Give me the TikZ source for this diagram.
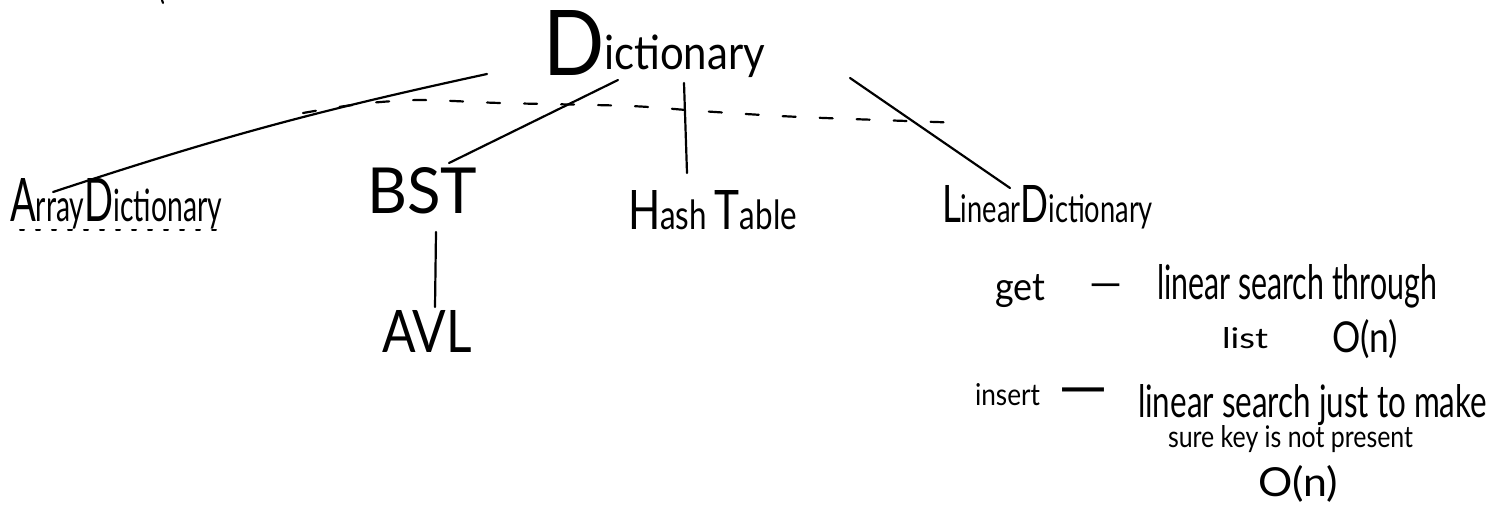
\documentclass[tikz,border=0pt]{standalone}
\usepackage{fontspec}
\setmainfont{Lato}
\usepackage{graphicx}
\newcommand{\hw}[3]{\resizebox{#1pt}{#2pt}{#3}}
\newcommand{\hwC}{\fontsize{27}{27}\selectfont}
\newcommand{\hwL}{\fontsize{20}{20}\selectfont}
\tikzset{
  lbl/.style={anchor=base west, inner sep=0pt, outer sep=0pt},
  dsh/.style={anchor=center, inner sep=0pt, outer sep=0pt},
  edge/.style={line width=2.2pt, line cap=round, line join=round},
  dashedge/.style={edge, dash pattern=on 13pt off 24pt},
  dotedge/.style={line width=2pt, line cap=round, dash pattern=on 4pt off 12pt}
}
\begin{document}
\begin{tikzpicture}[x=1pt,y=-1pt]
\useasboundingbox (0,0) rectangle (1498,506);
% labels
\node[lbl] (dict) at (543,75) {\hw{222}{65}{{\fontsize{48}{48}\selectfont D}{\fontsize{25}{25}\selectfont\raisebox{3pt}{ictionary}}}};
\node[lbl] (arr) at (10,221) {\hw{212}{43}{{\hwC A}{\hwL rray}{\hwC D}{\hwL ictionary}}};
\node[lbl] (bst) at (367,213) {\hw{110}{46}{\hwL BST}};
\node[lbl] (avl) at (382,352) {\hw{90}{42}{\hwL AVL}};
\node[lbl] (hash) at (628,229) {\hw{169}{39}{{\hwC H}{\hwL ash }{\hwC T}{\hwL able}}};
\node[lbl] (lin) at (942,222) {\hw{211}{37}{{\hwC L}{\hwL inear}{\hwC D}{\hwL ictionary}}};
\node[lbl] (get) at (995,300) {\hw{50}{26}{\hwL get}};
\node[dsh] (getdash) at (1106,291) {\resizebox{33pt}{!}{\hwL —}};
\node[lbl] (getdesc) at (1157,299) {\hw{280}{35}{\hwL linear search through}};
\node[lbl] (list) at (1222,348) {\hw{46}{21}{\hwL list}};
\node[lbl] (on1) at (1332,352) {\hw{66}{33}{\hwL O(n)}};
\node[lbl] (ins) at (975,405) {\hw{65}{22}{\hwL insert}};
\node[dsh] (insdash) at (1083,398) {\resizebox{50pt}{!}{\hwL —}};
\node[lbl] (insdesc) at (1138,417) {\hw{349}{33}{\hwL linear search just to make}};
\node[lbl] (sure) at (1168,447) {\hw{245}{22}{\hwL sure key is not present}};
\node[lbl] (on2) at (1258,496) {\hw{80}{31}{\hwL O(n)}};
% connector end points
\coordinate (d-arr) at (487,74);
\coordinate (arr-d) at (53,192);
\coordinate (d-bst) at (618,80);
\coordinate (bst-d) at (449,163);
\coordinate (d-hash) at (684,83);
\coordinate (hash-d) at (687,173);
\coordinate (d-lin) at (850,78);
\coordinate (lin-d) at (1010,188);
\coordinate (bst-avl) at (436,232);
\coordinate (avl-bst) at (435,307);
\draw[edge] (d-arr) to[bend right=3] (arr-d);
\draw[edge] (d-bst) -- (bst-d);
\draw[edge] (d-hash) -- (hash-d);
\draw[edge] (d-lin) -- (lin-d);
\draw[edge] (bst-avl) -- (avl-bst);
% dashed stroke across the tree
\draw[dashedge] plot[smooth] coordinates {(303,113) (360,104) (420,100) (500,103) (630,106) (700,111) (800,117) (965,123)};
% dotted underline of ArrayDictionary
\draw[dotedge] (20,230) -- (227,230);
% tiny mark at the top
\draw[edge] (162,0) -- (163,3);
\end{tikzpicture}
\end{document}
